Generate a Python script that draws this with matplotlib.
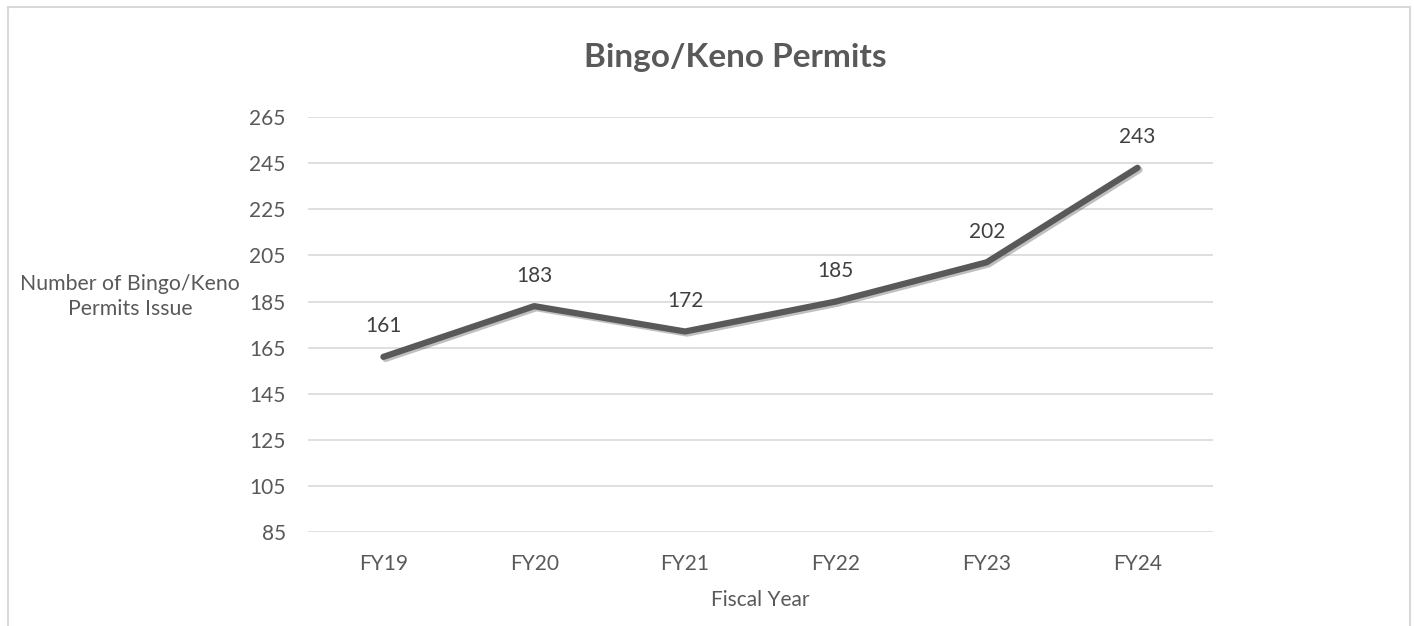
import matplotlib.pyplot as plt
import matplotlib.patheffects as pe
from matplotlib.patches import Rectangle

years = ['FY19', 'FY20', 'FY21', 'FY22', 'FY23', 'FY24']
permits = [161, 183, 172, 185, 202, 243]
yticks = [85, 105, 125, 145, 165, 185, 205, 225, 245, 265]

plt.rcParams['font.family'] = ['Lato', 'DejaVu Sans']
txt = '#595959'

fig = plt.figure(figsize=(14.14, 6.26), dpi=100)
ax = fig.add_axes([0.2178, 0.150, 0.640, 0.663])

# outer chart border
fig.patches.append(Rectangle((0.0057, -0.05), 0.9915, 1.039, transform=fig.transFigure,
                             fill=False, edgecolor='#d9d9d9', linewidth=1.5))

x = range(len(years))
ax.plot(x, permits, color='#595959', linewidth=4.5, solid_capstyle='round',
        path_effects=[pe.SimpleLineShadow(offset=(1.5, -1.5), alpha=0.25), pe.Normal()])

for i, v in zip(x, permits):
    ax.annotate(str(v), (i, v), xytext=(0, 22), textcoords='offset points',
                ha='center', va='center', fontsize=15, color='#404040')

ax.set_xlim(-0.5, len(years) - 0.5)
ax.set_ylim(85, 265)
ax.set_yticks(yticks)
ax.set_xticks(list(x))
ax.set_xticklabels(years)
ax.grid(axis='y', color='#d9d9d9', linewidth=1.2)
ax.set_axisbelow(True)
for s in ax.spines.values():
    s.set_visible(False)
ax.tick_params(length=0, labelsize=15, colors=txt, pad=16)
ax.tick_params(axis='x', pad=16)

ax.set_xlabel('Fiscal Year', fontsize=15, color=txt, labelpad=11)
fig.text(0.092, 0.526, 'Number of Bingo/Keno\nPermits Issue', ha='center', va='center',
         fontsize=15.3, color=txt, linespacing=1.3)
fig.text(0.52, 0.908, 'Bingo/Keno Permits', ha='center', va='center',
         fontsize=24, fontweight='bold', color=txt)

plt.savefig('out.png', dpi=100)
